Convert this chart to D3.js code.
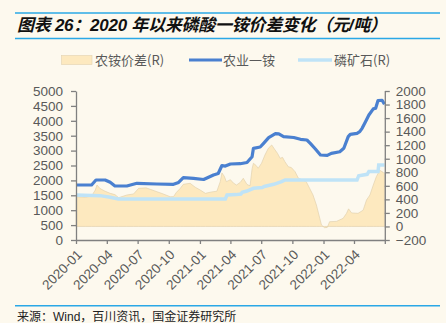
<!DOCTYPE html>
<html>
<head>
<meta charset="utf-8">
<script src="https://cdn.jsdelivr.net/npm/d3@7/dist/d3.min.js"></script>
<style>
  html, body { margin: 0; padding: 0; background: #fdf9ee; }
  svg { display: block; }
</style>
</head>
<body>
<svg id="chart" width="446" height="323"></svg>
<script>
// 农业一铵 price (left axis, 元/吨)
const mapDates = ["2020-01-01","2020-02-16","2020-02-29","2020-03-27","2020-04-11","2020-04-25","2020-05-30","2020-06-29","2020-08-27","2020-10-15","2020-10-30","2020-11-13","2020-12-13","2021-01-12","2021-02-10","2021-02-24","2021-03-07","2021-03-17","2021-04-01","2021-04-30","2021-05-20","2021-06-04","2021-06-08","2021-06-28","2021-07-08","2021-07-23","2021-08-12","2021-08-22","2021-09-05","2021-10-05","2021-10-25","2021-11-13","2021-11-23","2021-12-08","2021-12-23","2022-01-12","2022-01-24","2022-02-18","2022-03-02","2022-03-15","2022-03-21","2022-04-10","2022-04-18","2022-04-25","2022-05-05","2022-05-15","2022-05-28","2022-06-04","2022-06-11","2022-06-23","2022-06-30"];
const mapValues = [1846,1846,2013,2013,1936,1812,1812,1903,1880,1869,1930,2091,2070,2030,2181,2230,2500,2480,2550,2560,2600,2796,3077,3120,3244,3434,3568,3560,3468,3440,3379,3356,3244,3054,2853,2840,2909,2963,3077,3468,3546,3580,3635,3747,3971,4195,4400,4420,4680,4690,4554];

// 磷矿石 price (right axis)
const rockDates = ["2020-01-01","2020-03-12","2020-04-11","2020-05-05","2021-03-17","2021-03-22","2021-04-18","2021-05-02","2021-05-06","2021-05-20","2021-06-08","2021-07-04","2021-07-10","2021-08-07","2021-08-30","2021-09-10","2022-04-10","2022-04-15","2022-05-10","2022-05-15","2022-06-11","2022-06-13","2022-06-30"];
const rockValues = [464,455,430,405,405,464,470,478,505,523,563,575,590,622,661,686,686,749,770,810,810,907,907];

// 农铵价差 spread (right axis)
const spreadDates = ["2020-01-01","2020-01-28","2020-02-16","2020-02-27","2020-03-03","2020-03-12","2020-03-27","2020-04-11","2020-04-25","2020-05-06","2020-05-30","2020-06-19","2020-07-04","2020-07-26","2020-08-07","2020-08-27","2020-09-15","2020-10-05","2020-10-15","2020-10-23","2020-11-04","2020-11-13","2020-12-03","2020-12-18","2021-01-02","2021-01-17","2021-02-05","2021-02-20","2021-03-02","2021-03-07","2021-03-14","2021-03-20","2021-04-01","2021-04-10","2021-04-19","2021-04-30","2021-05-09","2021-05-20","2021-05-29","2021-06-04","2021-06-08","2021-06-16","2021-06-22","2021-07-02","2021-07-12","2021-07-22","2021-08-01","2021-08-11","2021-08-18","2021-08-26","2021-09-02","2021-09-09","2021-09-19","2021-09-28","2021-10-09","2021-10-19","2021-10-29","2021-11-11","2021-11-21","2021-12-01","2021-12-11","2021-12-21","2021-12-26","2022-01-04","2022-01-12","2022-01-19","2022-02-08","2022-02-28","2022-03-10","2022-03-16","2022-03-25","2022-04-13","2022-04-28","2022-05-08","2022-05-18","2022-05-28","2022-06-06","2022-06-16","2022-06-26","2022-06-30"];
const spreadValues = [439,430,450,538,612,560,520,489,470,425,464,480,563,570,549,513,479,439,440,500,563,622,637,580,538,489,510,520,661,790,740,661,690,640,612,650,711,620,600,850,933,900,859,933,1055,1154,1203,1129,1080,1006,1020,956,882,870,809,711,690,661,563,464,317,120,21,-18,-15,70,75,120,194,260,200,194,240,391,464,612,735,830,800,780];

// axis ticks
const leftTicks = [0,500,1000,1500,2000,2500,3000,3500,4000,4500,5000];
const rightTicks = [-200,0,200,400,600,800,1000,1200,1400,1600,1800,2000];
const xTickLabels = ["2020-01","2020-04","2020-07","2020-10","2021-01","2021-04","2021-07","2021-10","2022-01","2022-04",""];

const legendLabels = ["农铵价差(R)","农业一铵","磷矿石(R)"];
const titleText = "图表 26：2020 年以来磷酸一铵价差变化（元/吨）";
const sourceText = "来源：Wind，百川资讯，国金证券研究所";

const parse = d3.timeParse("%Y-%m-%d");
const zip = (ds, vs) => ds.map((d, i) => ({ date: parse(d), value: vs[i] }));
const mapData = zip(mapDates, mapValues);
const rockData = zip(rockDates, rockValues);
const spreadData = zip(spreadDates, spreadValues);

const svg = d3.select("#chart");
const W = 446, H = 323;
const ruleColor = "#2aa8e6";
const textColor = "#595959";
const numFont = "'Liberation Sans', Arial, sans-serif";
const cjkFont = "'Liberation Sans', 'Noto Sans CJK SC', sans-serif";

svg.append("rect").attr("width", W).attr("height", H).attr("fill", "#fdf9ee");

// header and footer rules
[13, 38.5, 305.7].forEach(y => {
  svg.append("line").attr("x1", 15).attr("x2", 440).attr("y1", y).attr("y2", y)
    .attr("stroke", ruleColor).attr("stroke-width", 1.4);
});

svg.append("text").attr("x", 17).attr("y", 30.5)
  .attr("font-family", cjkFont).attr("font-size", 17).attr("font-weight", "bold")
  .attr("font-style", "italic").attr("fill", "#111")
  .attr("textLength", 370).attr("lengthAdjust", "spacing").text(titleText);

svg.append("text").attr("x", 17).attr("y", 321)
  .attr("font-family", cjkFont).attr("font-size", 12).attr("fill", "#222").text(sourceText);

// scales
const x = d3.scaleTime().domain([parse("2020-01-01"), parse("2022-07-01")]).range([76, 384.8]);
const yL = d3.scaleLinear().domain([0, 5000]).range([240, 91]);
const yR = d3.scaleLinear().domain([-200, 2000]).range([240, 91]);

// spread area from the right-axis zero line
const area = d3.area().x(d => x(d.date)).y0(yR(0)).y1(d => yR(d.value));
svg.append("path").datum(spreadData).attr("d", area)
  .attr("fill", "#fde9bf").attr("stroke", "#ddcdaa").attr("stroke-width", 0.6);

const lineR = d3.line().x(d => x(d.date)).y(d => yR(d.value));
const lineL = d3.line().x(d => x(d.date)).y(d => yL(d.value));

svg.append("path").datum(rockData).attr("d", lineR)
  .attr("fill", "none").attr("stroke", "#bfe3f7").attr("stroke-width", 3.5);

svg.append("path").datum(mapData).attr("d", lineL)
  .attr("fill", "none").attr("stroke", "#4a80d0").attr("stroke-width", 3.2)
  .attr("stroke-linejoin", "round");

// axes
const axisColor = "#808080";
function styleAxis(g) {
  g.selectAll("path, line").attr("stroke", axisColor).attr("stroke-width", 1.3);
  g.selectAll("text").attr("fill", textColor).attr("font-family", numFont).attr("font-size", 13.5);
}

const xTickDates = d3.timeMonth.range(parse("2020-01-01"), parse("2022-07-02"), 3);
const gx = svg.append("g").attr("transform", "translate(0,240)")
  .call(d3.axisBottom(x).tickValues(xTickDates).tickSizeInner(4).tickSizeOuter(0)
    .tickFormat((d, i) => xTickLabels[i]));
styleAxis(gx);
gx.selectAll("text")
  .attr("text-anchor", "end")
  .attr("transform", "translate(3,12) rotate(-45)")
  .attr("dx", 0).attr("dy", "0.35em").attr("y", 0).attr("x", 0);

const fmt = d3.format("d");
const gl = svg.append("g").attr("transform", "translate(76,0)")
  .call(d3.axisLeft(yL).tickValues(leftTicks).tickFormat(fmt).tickSizeInner(5).tickSizeOuter(0).tickPadding(8));
styleAxis(gl);

const gr = svg.append("g").attr("transform", `translate(${x.range()[1]},0)`)
  .call(d3.axisRight(yR).tickValues(rightTicks).tickFormat(fmt).tickSizeInner(5).tickSizeOuter(0).tickPadding(6));
styleAxis(gr);

// legend
const lg = svg.append("g").attr("font-family", "'Noto Sans CJK SC', sans-serif")
  .attr("font-size", 13).attr("fill", textColor);
lg.append("rect").attr("x", 61.5).attr("y", 55.5).attr("width", 30.5).attr("height", 9)
  .attr("fill", "#fde9bf").attr("stroke", "#e3d3b0").attr("stroke-width", 0.6);
lg.append("text").attr("x", 95).attr("y", 64.5).text(legendLabels[0]);
lg.append("line").attr("x1", 189).attr("x2", 222).attr("y1", 60).attr("y2", 60)
  .attr("stroke", "#4a80d0").attr("stroke-width", 3.2);
lg.append("text").attr("x", 223).attr("y", 64.5).text(legendLabels[1]);
lg.append("line").attr("x1", 298).attr("x2", 332).attr("y1", 60).attr("y2", 60)
  .attr("stroke", "#bfe3f7").attr("stroke-width", 3.5);
lg.append("text").attr("x", 334).attr("y", 64.5).text(legendLabels[2]);
</script>
</body>
</html>
